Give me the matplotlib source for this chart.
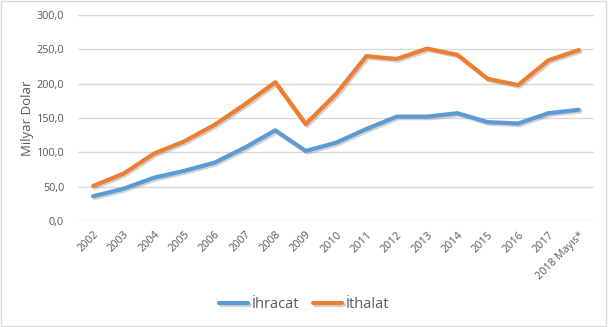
import matplotlib
matplotlib.use("Agg")
import matplotlib.pyplot as plt
import matplotlib.patheffects as pe
from matplotlib.ticker import FuncFormatter

years = ["2002", "2003", "2004", "2005", "2006", "2007", "2008", "2009", "2010",
         "2011", "2012", "2013", "2014", "2015", "2016", "2017", "2018 Mayıs*"]
ihracat = [36, 47, 63, 73, 85, 107, 132, 102, 114, 134, 152, 152, 157, 144, 142, 157, 162]
ithalat = [51, 69, 98, 116, 140, 170, 202, 141, 185, 240, 236, 251, 242, 207, 198, 234, 249]

plt.rcParams['font.family'] = ['Open Sans', 'DejaVu Sans']
text_color = "#595959"

fig = plt.figure(figsize=(6.08, 3.27), dpi=100)
ax = fig.add_axes([78 / 608, 1 - 221 / 327, (594 - 78) / 608, (221 - 15) / 327])

x = list(range(len(years)))
shadow = [pe.SimpleLineShadow(offset=(1.2, -1.2), shadow_color="gray", alpha=0.35), pe.Normal()]
ax.plot(x, ihracat, color="#5B9BD5", lw=3, label="İhracat", solid_capstyle="round",
        solid_joinstyle="round", path_effects=shadow)
ax.plot(x, ithalat, color="#ED7D31", lw=3, label="İthalat", solid_capstyle="round",
        solid_joinstyle="round", path_effects=shadow)

ax.set_xlim(-0.5, len(years) - 0.5)
ax.set_ylim(0, 300)
ax.set_yticks(range(0, 301, 50))
ax.yaxis.set_major_formatter(FuncFormatter(lambda v, p: f"{v:.1f}".replace(".", ",")))
ax.set_xticks(x)
ax.set_xticklabels(years, rotation=45, ha="right", rotation_mode="anchor")
ax.grid(axis="y", color="#D9D9D9", lw=1)
ax.set_axisbelow(True)
for s in ax.spines.values():
    s.set_visible(False)
ax.tick_params(length=0, colors=text_color, labelsize=7.8)
ax.tick_params(axis="y", pad=10)
ax.tick_params(axis="x", pad=6)
ax.set_ylabel("Milyar Dolar", color=text_color, fontsize=9.5, labelpad=2)

fig.legend(loc="center", bbox_to_anchor=(0.5, 1 - 305 / 327), ncol=2, frameon=False,
           fontsize=10.5, handlelength=2.0, handletextpad=0.2, columnspacing=1.0,
           labelcolor=text_color)

fig.patches.append(plt.Rectangle((0.002, 0.003), 0.995, 0.994, transform=fig.transFigure,
                                 fill=False, edgecolor="#D9D9D9", lw=1))

fig.savefig("out.png", dpi=100)
